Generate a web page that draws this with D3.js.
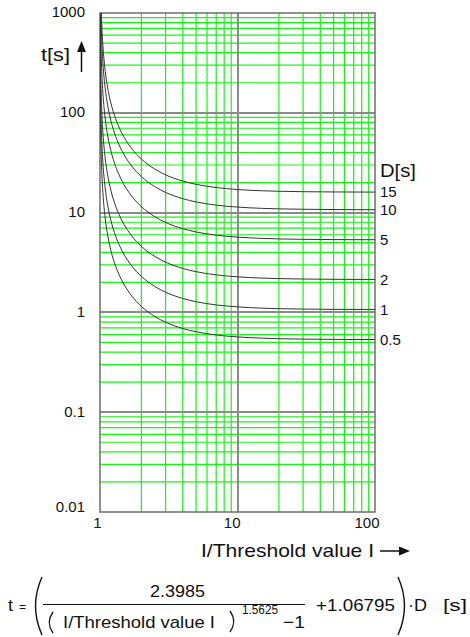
<!DOCTYPE html>
<html>
<head>
<meta charset="utf-8">
<script src="https://cdn.jsdelivr.net/npm/d3@7/dist/d3.min.js"></script>
<style>
  html, body { margin: 0; padding: 0; background: #fff; }
  svg { display: block; font-family: "Liberation Sans", Arial, sans-serif; }
</style>
</head>
<body>
<svg id="chart" width="470" height="637"></svg>
<script>
// Current multiple I/threshold at which the trip times are tabulated
const multiples = [1.0005, 1.001, 1.002, 1.005, 1.01, 1.02, 1.03, 1.05, 1.07, 1.1, 1.15, 1.2, 1.3, 1.4, 1.5, 1.7, 2, 2.5, 3, 4, 5, 7, 10, 15, 20, 30, 50, 70, 100];

// Time dial settings D[s]
const dialSettings = [15, 10, 5, 2, 1, 0.5];

// Trip time t[s] for each dial setting, one value per entry of `multiples`
const tripD15 = [46061, 23036, 11522, 4616, 2312, 1161, 777.2, 470.3, 338.7, 240.0, 163.5, 125.2, 87.02, 68.04, 56.72, 43.88, 34.43, 27.31, 23.90, 20.68, 19.19, 17.83, 17.03, 16.55, 16.36, 16.20, 16.10, 16.07, 16.05];
const tripD10 = [30707, 15357, 7681, 3077, 1541, 773.9, 518.1, 313.5, 225.8, 160.0, 109.0, 83.44, 58.01, 45.36, 37.81, 29.25, 22.96, 18.21, 15.93, 13.79, 12.79, 11.88, 11.36, 11.03, 10.90, 10.80, 10.73, 10.71, 10.70];
const tripD5 = [15354, 7679, 3841, 1539, 770.7, 387.0, 259.1, 156.8, 112.9, 80.0, 54.5, 41.72, 29.01, 22.68, 18.91, 14.63, 11.48, 9.104, 7.967, 6.893, 6.395, 5.942, 5.678, 5.517, 5.452, 5.399, 5.367, 5.356, 5.349];
const tripD2 = [6141, 3071, 1536, 615.4, 308.3, 154.8, 103.6, 62.70, 45.16, 32.00, 21.80, 16.69, 11.60, 9.072, 7.562, 5.850, 4.591, 3.642, 3.187, 2.757, 2.558, 2.377, 2.271, 2.207, 2.181, 2.160, 2.147, 2.142, 2.140];
const tripD1 = [3070.7, 1535.7, 768.1, 307.7, 154.14, 77.39, 51.81, 31.35, 22.58, 16.00, 10.90, 8.344, 5.801, 4.536, 3.781, 2.925, 2.296, 1.821, 1.593, 1.379, 1.279, 1.188, 1.136, 1.103, 1.090, 1.080, 1.073, 1.071, 1.070];
const tripD05 = [1535, 768, 384, 154, 77.07, 38.70, 25.91, 15.68, 11.29, 8.00, 5.45, 4.172, 2.901, 2.268, 1.891, 1.463, 1.148, 0.910, 0.797, 0.689, 0.640, 0.594, 0.568, 0.552, 0.545, 0.540, 0.537, 0.535, 0.535];
const tripSeries = [tripD15, tripD10, tripD5, tripD2, tripD1, tripD05];

// Axis tick labels
const xTickLabels = ["1", "10", "100"];
const yTickLabels = ["0.01", "0.1", "1", "10", "100", "1000"];

const svg = d3.select("#chart");
const plotLeft = 100, plotRight = 375, plotTop = 13, plotBottom = 512;

const x = d3.scaleLog().domain([1, 100]).range([plotLeft, plotRight]);
const y = d3.scaleLog().domain([0.01, 1000]).range([plotBottom, plotTop]);

const isDecade = v => Math.abs(Math.log10(v) - Math.round(Math.log10(v))) < 1e-9;
const GREEN = "#14f514";

// Minor grid (green)
const grid = svg.append("g");
grid.selectAll("line.gx").data(x.ticks().filter(v => !isDecade(v)))
  .join("line").attr("class", "gx")
  .attr("x1", d => x(d)).attr("x2", d => x(d))
  .attr("y1", plotTop).attr("y2", plotBottom)
  .attr("stroke", GREEN).attr("stroke-width", 1.2);
grid.selectAll("line.gy").data(y.ticks().filter(v => !isDecade(v)))
  .join("line").attr("class", "gy")
  .attr("y1", d => y(d)).attr("y2", d => y(d))
  .attr("x1", plotLeft).attr("x2", plotRight)
  .attr("stroke", GREEN).attr("stroke-width", 1.2);

// Decade grid (grey)
grid.selectAll("line.mx").data(x.ticks().filter(v => isDecade(v) && v > 1 && v < 100))
  .join("line").attr("class", "mx")
  .attr("x1", d => Math.round(x(d))).attr("x2", d => Math.round(x(d)))
  .attr("y1", plotTop).attr("y2", plotBottom)
  .attr("stroke", "#8a8a8a").attr("stroke-width", 2)
  .attr("shape-rendering", "crispEdges");
grid.selectAll("line.my").data(y.ticks().filter(v => isDecade(v) && v > 0.01 && v < 1000))
  .join("line").attr("class", "my")
  .attr("y1", d => Math.round(y(d))).attr("y2", d => Math.round(y(d)))
  .attr("x1", plotLeft).attr("x2", plotRight)
  .attr("stroke", "#8a8a8a").attr("stroke-width", 2)
  .attr("shape-rendering", "crispEdges");

// Frame
svg.append("rect").attr("x", plotLeft).attr("y", plotTop)
  .attr("width", plotRight - plotLeft).attr("height", plotBottom - plotTop)
  .attr("fill", "none").attr("stroke", "#6e6e6e").attr("stroke-width", 1.5);

// Trip curves
svg.append("clipPath").attr("id", "plot")
  .append("rect").attr("x", plotLeft).attr("y", plotTop)
  .attr("width", plotRight - plotLeft).attr("height", plotBottom - plotTop);

const line = d3.line()
  .x(d => x(d[0])).y(d => y(d[1]))
  .curve(d3.curveMonotoneX);

svg.append("g").attr("clip-path", "url(#plot)")
  .selectAll("path").data(tripSeries)
  .join("path")
  .attr("d", s => line(multiples.map((m, i) => [m, s[i]])))
  .attr("fill", "none").attr("stroke", "#333").attr("stroke-width", 1);

// Dial setting labels at the curve ends
svg.selectAll("text.dial").data(dialSettings)
  .join("text").attr("class", "dial")
  .attr("x", plotRight + 5)
  .attr("y", (d, i) => y(tripSeries[i][tripSeries[i].length - 1]))
  .attr("dy", "0.36em")
  .attr("font-size", 15).attr("fill", "#111")
  .text(d => d);
svg.append("text").attr("x", plotRight + 5).attr("y", 177)
  .attr("font-size", 19).attr("fill", "#111")
  .attr("textLength", 36).attr("lengthAdjust", "spacingAndGlyphs").text("D[s]");

// Y tick labels
const yTicks = yTickLabels.map(Number);
svg.selectAll("text.yt").data(yTicks)
  .join("text").attr("class", "yt")
  .attr("x", 85).attr("y", d => y(d) + (d === 0.01 ? -5 : -1))
  .attr("dy", "0.36em").attr("text-anchor", "end")
  .attr("font-size", 15).attr("fill", "#111")
  .text((d, i) => yTickLabels[i]);

// X tick labels
const xTicks = xTickLabels.map(Number);
svg.selectAll("text.xt").data(xTicks)
  .join("text").attr("class", "xt")
  .attr("y", 528).attr("font-size", 15).attr("fill", "#111")
  .attr("text-anchor", "middle")
  .text((d, i) => xTickLabels[i])
  .attr("x", function (d) { return x(d) - this.getComputedTextLength() * 0.32; });

// Axis titles with arrows
svg.append("text").attr("x", 41).attr("y", 61)
  .attr("font-size", 19).attr("fill", "#111")
  .attr("textLength", 29).attr("lengthAdjust", "spacingAndGlyphs").text("t[s]");
svg.append("line").attr("x1", 81.5).attr("x2", 81.5).attr("y1", 72).attr("y2", 50)
  .attr("stroke", "#111").attr("stroke-width", 1.5);
svg.append("path").attr("d", "M81.5,41 L77,52 L86,52 Z").attr("fill", "#111");

svg.append("text").attr("x", 201).attr("y", 557)
  .attr("font-size", 19).attr("fill", "#111")
  .attr("textLength", 173).attr("lengthAdjust", "spacingAndGlyphs").text("I/Threshold value I");
svg.append("line").attr("x1", 380).attr("x2", 401).attr("y1", 551).attr("y2", 551)
  .attr("stroke", "#111").attr("stroke-width", 1.5);
svg.append("path").attr("d", "M410,551 L399,546.5 L399,555.5 Z").attr("fill", "#111");

// Trip time formula
const f = svg.append("g").attr("fill", "#111").attr("font-size", 17);
const piece = (px, py, txt, len, size) => {
  const t = f.append("text").attr("x", px).attr("y", py).text(txt);
  if (size) t.attr("font-size", size);
  if (len) t.attr("textLength", len).attr("lengthAdjust", "spacingAndGlyphs");
  return t;
};
piece(8, 611, "t", 5);
piece(19, 611, "=", 7, 13);
f.append("path").attr("d", "M42,577 Q29,606 42,635").attr("fill", "none")
  .attr("stroke", "#111").attr("stroke-width", 1.4);
piece(150, 597, "2.3985", 55);
f.append("line").attr("x1", 43).attr("x2", 305).attr("y1", 604.5).attr("y2", 604.5)
  .attr("stroke", "#111").attr("stroke-width", 1);
f.append("path").attr("d", "M53,612 Q45.5,622.5 53,633").attr("fill", "none")
  .attr("stroke", "#111").attr("stroke-width", 1.3);
piece(63, 628, "I/Threshold value I", 152);
f.append("path").attr("d", "M230,611 Q237.5,621.5 230,632").attr("fill", "none")
  .attr("stroke", "#111").attr("stroke-width", 1.3);
piece(242, 614, "1.5625", 36, 12);
piece(283, 628, "\u22121", 22);
piece(316, 611, "+1.06795", 79);
f.append("path").attr("d", "M398,577 Q411,606 398,635").attr("fill", "none")
  .attr("stroke", "#111").attr("stroke-width", 1.4);
piece(408, 611, "\u00b7D", 19);
piece(443, 611, "[s]", 24);
</script>
</body>
</html>
